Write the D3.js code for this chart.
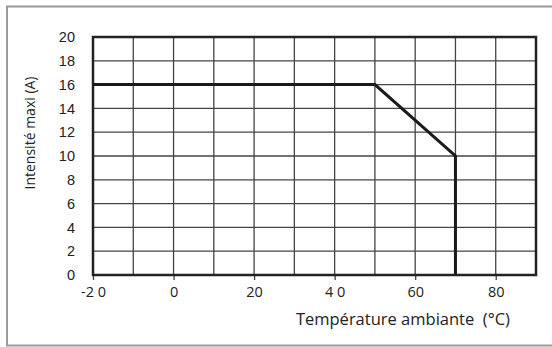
<!DOCTYPE html>
<html>
<head>
<meta charset="utf-8">
<script src="https://cdn.jsdelivr.net/npm/d3@7"></script>
<style>
  html, body { margin: 0; padding: 0; background: #fff; }
  svg { display: block; }
</style>
</head>
<body>
<svg id="chart" width="552" height="347"></svg>
<script>
// Derating curve: maximum current vs ambient temperature
const temperatures = [-20, 50, 70, 70];
const currents = [16, 16, 10, 0];

const xTicks = [-20, 0, 20, 40, 60, 80];
const xTickLabels = ["-2 0", "0", "20", "4 0", "60", "80"];
const xGrid = [-10, 0, 10, 20, 30, 40, 50, 60, 70, 80];
const yTicks = [0, 2, 4, 6, 8, 10, 12, 14, 16, 18, 20];

const svg = d3.select("#chart");
const plot = { left: 93, right: 536, top: 37, bottom: 275 };

// outer frame
svg.append("rect")
  .attr("x", 7).attr("y", 6.5)
  .attr("width", 570).attr("height", 339)
  .attr("fill", "none").attr("stroke", "#9a9a9a").attr("stroke-width", 2);

const x = d3.scaleLinear().domain([-20, 90]).range([plot.left, plot.right]);
const y = d3.scaleLinear().domain([0, 20]).range([plot.bottom, plot.top]);

// grid
const grid = svg.append("g");
grid.selectAll("line.v").data(xGrid).join("line")
  .attr("x1", d => x(d)).attr("x2", d => x(d))
  .attr("y1", plot.top).attr("y2", plot.bottom)
  .attr("stroke", "#444").attr("stroke-width", 1.3);
grid.selectAll("line.h").data(yTicks.slice(1, -1)).join("line")
  .attr("x1", plot.left).attr("x2", plot.right)
  .attr("y1", d => y(d)).attr("y2", d => y(d))
  .attr("stroke", "#444").attr("stroke-width", 1.3);

// x axis ticks and labels
const xAxis = d3.axisBottom(x)
  .tickValues(xTicks)
  .tickSize(5)
  .tickFormat((d, i) => xTickLabels[i]);
const gx = svg.append("g")
  .attr("transform", `translate(0,${plot.bottom})`)
  .call(xAxis);
gx.select(".domain").remove();
gx.selectAll(".tick line").attr("stroke", "#444").attr("stroke-width", 1.3);
gx.selectAll(".tick text")
  .attr("y", 12)
  .attr("fill", "#222")
  .style("white-space", "pre")
  .style("font-family", "'Open Sans', sans-serif")
  .style("font-size", "14.5px");

// y axis labels
const yAxis = d3.axisLeft(y).tickValues(yTicks).tickSize(0).tickPadding(18);
const gy = svg.append("g")
  .attr("transform", `translate(${plot.left},0)`)
  .call(yAxis);
gy.select(".domain").remove();
gy.selectAll(".tick text")
  .attr("fill", "#222")
  .style("font-family", "'Liberation Sans', Arial, sans-serif")
  .style("font-size", "14.5px");

// plot border
svg.append("rect")
  .attr("x", plot.left).attr("y", plot.top)
  .attr("width", plot.right - plot.left).attr("height", plot.bottom - plot.top)
  .attr("fill", "none").attr("stroke", "#222").attr("stroke-width", 2.5);

// derating curve
const line = d3.line().x(d => x(d[0])).y(d => y(d[1]));
svg.append("path")
  .datum(temperatures.map((t, i) => [t, currents[i]]))
  .attr("d", line)
  .attr("fill", "none")
  .attr("stroke", "#1a1a1a")
  .attr("stroke-width", 3)
  .attr("stroke-linejoin", "miter");

// axis titles
svg.append("text")
  .attr("x", 510).attr("y", 325)
  .attr("text-anchor", "end")
  .attr("fill", "#222")
  .style("white-space", "pre")
  .style("font-family", "'Open Sans', sans-serif")
  .style("font-size", "16.5px")
  .text("Température ambiante  (°C)");

svg.append("text")
  .attr("transform", "translate(35,133) rotate(-90)")
  .attr("text-anchor", "middle")
  .attr("fill", "#222")
  .style("font-family", "'Open Sans', sans-serif")
  .style("font-size", "14px")
  .text("Intensité maxi (A)");
</script>
</body>
</html>
